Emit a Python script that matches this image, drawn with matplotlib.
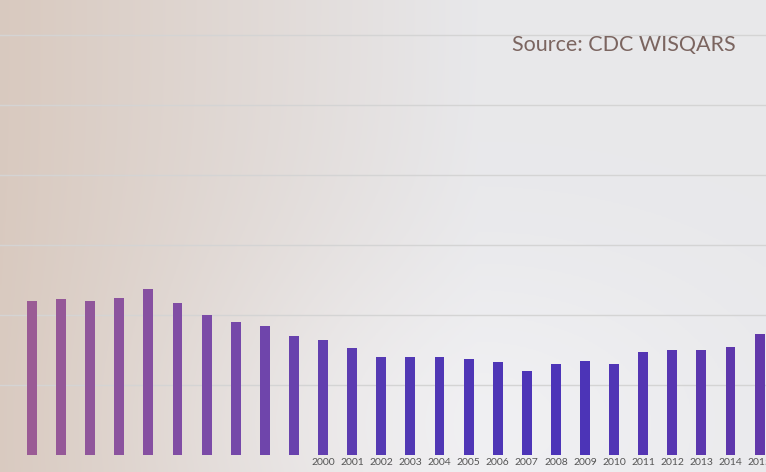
import numpy as np
import matplotlib
matplotlib.use("Agg")
import matplotlib.pyplot as plt
from matplotlib.colors import LinearSegmentedColormap

# data (relative units, gridline every 2)
years = list(range(1990, 2016))
values = [4.4, 4.45, 4.4, 4.5, 4.75, 4.35, 4.0, 3.8, 3.7, 3.4,
          3.3, 3.05, 2.8, 2.8, 2.8, 2.75, 2.65, 2.4, 2.6, 2.7,
          2.6, 2.95, 3.0, 3.0, 3.1, 3.45]
shown_labels = [str(y) if y >= 2000 else "" for y in years]
source_text = "Source: CDC WISQARS"

fig = plt.figure(figsize=(7.66, 4.72), dpi=100)

# photo-like background: warm on the left, lighter on the right
bg = fig.add_axes([0, 0, 1, 1])
gx = np.linspace(0, 1, 300)
gy = np.linspace(0, 1, 200)
X, Y = np.meshgrid(gx, gy)
warm = np.array([0.85, 0.79, 0.75])
cool = np.array([0.91, 0.91, 0.92])
t = np.clip(X * 1.6, 0, 1)[..., None]
img = warm * (1 - t) + cool * t
# bright spot low in the middle
spot = np.exp(-(((X - 0.62) / 0.35) ** 2 + ((Y - 0.1) / 0.35) ** 2))[..., None]
img = img * (1 - 0.6 * spot) + np.array([0.96, 0.96, 0.97]) * 0.6 * spot
bg.imshow(img, extent=[0, 1, 0, 1], aspect="auto", origin="lower")
bg.axis("off")

ax = fig.add_axes([0, 0.036, 1, 0.964])
ax.patch.set_alpha(0)

cmap = LinearSegmentedColormap.from_list("bars", ["#9a5b95", "#7a4aa8", "#5238b4", "#4b34b8", "#6238aa"])
colors = [cmap(i / (len(years) - 1)) for i in range(len(years))]
x = np.arange(len(years))
ax.bar(x, values, width=0.34, color=colors, zorder=3)

ax.set_xlim(-1.1, 25.22)
ax.set_ylim(0, 13)
ax.set_yticks(range(2, 14, 2))
ax.yaxis.grid(True, color="#d4d4d4", linewidth=1, zorder=0)
ax.set_yticklabels([])
ax.tick_params(axis="y", length=0)
ax.set_xticks(x)
ax.set_xticklabels(shown_labels, fontsize=7.5, color="#555555", family="Lato")
ax.tick_params(axis="x", length=0, pad=2)
for s in ax.spines.values():
    s.set_visible(False)

fig.text(0.96, 0.905, source_text, fontsize=15.5, color="#7b6560",
         family="Lato", ha="right", va="center")

fig.savefig("out.png", dpi=100)
